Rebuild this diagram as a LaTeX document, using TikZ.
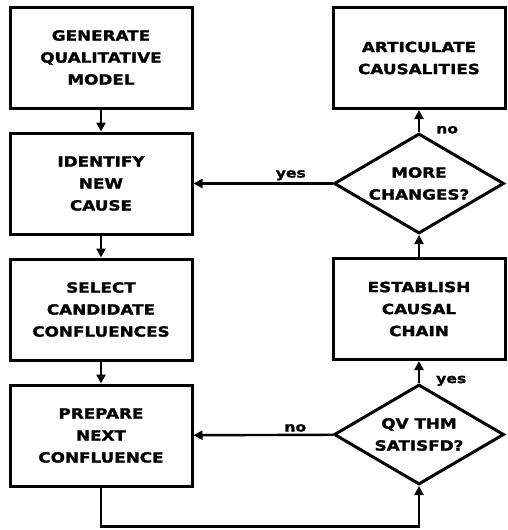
\documentclass[tikz,border=0pt]{standalone}
\usepackage{fontspec}
\newfontfamily\chartfont[FakeStretch=1.2, FakeBold=1.6]{DejaVu Sans}
\usetikzlibrary{shapes.geometric, arrows.meta, positioning}

\begin{document}
\begin{tikzpicture}[
    x=1pt, y=1pt,
    node distance=22pt,
    block/.style={rectangle, draw, line width=3pt, minimum width=182pt, minimum height=101pt, align=center, font=\chartfont\bfseries\fontsize{14}{22}\selectfont},
    decision/.style={diamond, draw, line width=3pt, minimum width=170pt, minimum height=100pt, aspect=1.7, inner sep=0pt, align=center, font=\chartfont\bfseries\fontsize{14}{22}\selectfont},
    arrow/.style={-{Triangle[width=9pt,length=9pt]}, line width=2.4pt},
    lbl/.style={font=\chartfont\bfseries\fontsize{13}{15}\selectfont, inner sep=2pt}
]
    \useasboundingbox (0,0) rectangle (507,-530);

    % left column
    \node[block] (generate) at (101,-57.5) {GENERATE\\ QUALITATIVE\\ MODEL};
    \node[block, below=of generate] (identify) {IDENTIFY\\ NEW\\ CAUSE};
    \node[block, below=of identify] (select) {SELECT\\ CANDIDATE\\ CONFLUENCES};
    \node[block, below=of select] (prepare) {PREPARE\\ NEXT\\ CONFLUENCE};

    % right column
    \node[block, minimum width=172pt] (articulate) at (419,-58) {ARTICULATE\\ CAUSALITIES};
    \node[decision, below=of articulate] (more) {MORE\\ CHANGES?};
    \node[block, minimum width=172pt, below=of more] (establish) {ESTABLISH\\ CAUSAL\\ CHAIN};
    \node[decision, below=of establish] (qvthm) {QV THM\\ SATISFD?};

    \coordinate (loop) at (0,-526.5);

    \draw[arrow] (generate) -- (identify);
    \draw[arrow] (identify) -- (select);
    \draw[arrow] (select) -- (prepare);
    \draw[arrow] (prepare.south) -- (prepare.south |- loop) -| (qvthm.south);
    \draw[arrow] (qvthm) -- node[lbl, right, pos=0.1, xshift=14pt] {yes} (establish);
    \draw[arrow] (establish) -- (more);
    \draw[arrow] (more) -- node[lbl, right, pos=0.1, xshift=14pt] {no} (articulate);
    \draw[arrow] (more) -- node[lbl, above, pos=0.3] {yes} (identify);
    \draw[arrow] (qvthm) -- node[lbl, above, pos=0.27] {no} (prepare);
\end{tikzpicture}
\end{document}
